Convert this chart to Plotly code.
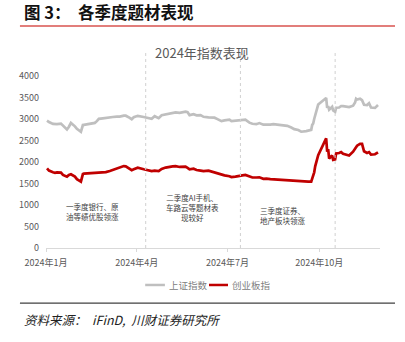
import plotly.graph_objects as go

# Trading dates sampled through 2024
dates = [
    "2024-01-02", "2024-01-04", "2024-01-08", "2024-01-10", "2024-01-12", "2024-01-16",
    "2024-01-18", "2024-01-22", "2024-01-24", "2024-01-26", "2024-01-30", "2024-02-01",
    "2024-02-05", "2024-02-07", "2024-02-08", "2024-02-19", "2024-02-21", "2024-02-23",
    "2024-02-27", "2024-03-01", "2024-03-05", "2024-03-08", "2024-03-12", "2024-03-15",
    "2024-03-19", "2024-03-21", "2024-03-25", "2024-03-27", "2024-03-29", "2024-04-02",
    "2024-04-08", "2024-04-11", "2024-04-16", "2024-04-19", "2024-04-23", "2024-04-26",
    "2024-04-30", "2024-05-07", "2024-05-10", "2024-05-14", "2024-05-17", "2024-05-20",
    "2024-05-22", "2024-05-24", "2024-05-28", "2024-05-31", "2024-06-04", "2024-06-07",
    "2024-06-12", "2024-06-14", "2024-06-18", "2024-06-21", "2024-06-25", "2024-06-28",
    "2024-07-03", "2024-07-05", "2024-07-09", "2024-07-12", "2024-07-16", "2024-07-19",
    "2024-07-23", "2024-07-26", "2024-07-30", "2024-08-02", "2024-08-06", "2024-08-09",
    "2024-08-13", "2024-08-16", "2024-08-20", "2024-08-23", "2024-08-27", "2024-08-30",
    "2024-09-03", "2024-09-06", "2024-09-10", "2024-09-13", "2024-09-18", "2024-09-20",
    "2024-09-23", "2024-09-24", "2024-09-25", "2024-09-26", "2024-09-27", "2024-09-30",
    "2024-10-08", "2024-10-09", "2024-10-10", "2024-10-11", "2024-10-14", "2024-10-15",
    "2024-10-17", "2024-10-18", "2024-10-21", "2024-10-23", "2024-10-25", "2024-10-29",
    "2024-10-31", "2024-11-04", "2024-11-06", "2024-11-07", "2024-11-08", "2024-11-11",
    "2024-11-13", "2024-11-15", "2024-11-18", "2024-11-20", "2024-11-22", "2024-11-26",
    "2024-11-28", "2024-11-29",
]

# 上证指数 closing levels
sse = [
    2962, 2930, 2887, 2877, 2881, 2893,
    2845, 2756, 2820, 2910, 2830, 2770,
    2702, 2860, 2865, 2910, 2950, 3004,
    3015, 3027, 3047, 3046, 3055, 3054,
    3078, 3077, 3027, 2993, 3041, 3074,
    3047, 3034, 3007, 3065, 3021, 3088,
    3105, 3147, 3154, 3145, 3154, 3171,
    3158, 3089, 3110, 3086, 3091, 3051,
    3037, 3032, 3030, 2998, 2950, 2967,
    2982, 2949, 2959, 2971, 2976, 2982,
    2915, 2890, 2879, 2905, 2867, 2862,
    2868, 2879, 2866, 2855, 2848, 2842,
    2802, 2765, 2744, 2704, 2717, 2736,
    2748, 2863, 2897, 3000, 3087, 3336,
    3489, 3258, 3301, 3217, 3284, 3202,
    3169, 3261, 3268, 3302, 3300, 3286,
    3279, 3310, 3383, 3471, 3452, 3470,
    3439, 3331, 3324, 3368, 3267, 3259,
    3295, 3326,
]

# 创业板指 closing levels
chinext = [
    1853, 1800, 1760, 1748, 1760, 1752,
    1700, 1660, 1700, 1715, 1660, 1600,
    1543, 1720, 1730, 1740, 1745, 1750,
    1755, 1765, 1790, 1815, 1860, 1890,
    1905, 1900, 1840, 1810, 1830, 1868,
    1830, 1820, 1790, 1800, 1790, 1840,
    1870, 1900, 1905, 1885, 1880, 1890,
    1865, 1830, 1845, 1815, 1800, 1790,
    1800, 1785, 1770, 1730, 1700, 1690,
    1670, 1650, 1660, 1680, 1690, 1700,
    1660, 1640, 1640, 1645, 1610, 1615,
    1600, 1595, 1590, 1580, 1575, 1580,
    1570, 1560, 1550, 1545, 1550, 1545,
    1545, 1620, 1680, 1760, 1900, 2160,
    2550, 2240, 2300, 2080, 2150, 2050,
    2060, 2200, 2210, 2230, 2190, 2170,
    2150, 2240, 2300, 2340, 2380, 2420,
    2420, 2250, 2210, 2230, 2170, 2180,
    2200, 2225,
]

series_names = ["上证指数", "创业板指"]
series_colors = ["#BFBFBF", "#C00000"]

tick_dates = ["2024-01-01", "2024-04-01", "2024-07-01", "2024-10-01"]
tick_text = ["2024年1月", "2024年4月", "2024年7月", "2024年10月"]
y_ticks = [0, 500, 1000, 1500, 2000, 2500, 3000, 3500, 4000]

# Quarter separators and their notes
quarter_marks = ["2024-04-10", "2024-07-14", "2024-10-17"]
quarter_notes = [
    "一季度银行、原<br>油等绩优股领涨",
    "二季度AI手机、<br>车路云等题材表<br>现较好",
    "三季度证券、<br>地产板块领涨",
]
note_pos = [(0.138, 0.215), (0.44, 0.238), (0.71, 0.189)]

CJK = "Noto Sans CJK SC"

fig = go.Figure()
for name, vals, col in zip(series_names, [sse, chinext], series_colors):
    fig.add_trace(go.Scatter(
        x=dates, y=vals, mode="lines", name=name,
        line=dict(color=col, width=2.7), showlegend=False,
    ))

shapes = []
for d in quarter_marks:
    shapes.append(dict(type="line", xref="x", yref="paper", x0=d, x1=d,
                       y0=0, y1=1.134, line=dict(color="#D0D0D0", width=1, dash="dot")))

# header rule and footer rule
shapes.append(dict(type="line", xref="paper", yref="paper", x0=-0.078, x1=1.045,
                   y0=1.291, y1=1.291, line=dict(color="#D9534F", width=1.5)))
shapes.append(dict(type="line", xref="paper", yref="paper", x0=-0.078, x1=1.045,
                   y0=-0.32, y1=-0.32, line=dict(color="#404040", width=1.2)))

# legend keys
legend_keys = [(0.297, 0.356, 0.362), (0.488, 0.545, 0.551)]
for (x0, x1, tx), name, col in zip(legend_keys, series_names, series_colors):
    shapes.append(dict(type="line", xref="paper", yref="paper", x0=x0, x1=x1,
                       y0=-0.215, y1=-0.215, line=dict(color=col, width=2.5)))

annotations = []
for (x0, x1, tx), name in zip(legend_keys, series_names):
    annotations.append(dict(xref="paper", yref="paper", x=tx, y=-0.215, text=name,
                            showarrow=False, xanchor="left", yanchor="middle",
                            font=dict(family=CJK, size=9.5, color="#808080")))

for (nx, ny), txt in zip(note_pos, quarter_notes):
    annotations.append(dict(xref="paper", yref="paper", x=nx, y=ny, text=txt,
                            showarrow=False, xanchor="center", yanchor="middle",
                            align="center",
                            font=dict(family=CJK, size=7.5, color="#404040")))

annotations.append(dict(xref="paper", yref="paper", x=-0.069, y=1.37,
                        text="<b>图 3：  各季度题材表现</b>", showarrow=False,
                        xanchor="left", yanchor="middle", borderpad=0,
                        font=dict(family=CJK, size=16.5, color="#111111")))
annotations.append(dict(xref="paper", yref="paper", x=0.467, y=1.134,
                        text="2024年指数表现", showarrow=False,
                        xanchor="center", yanchor="middle",
                        font=dict(family=CJK, size=13, color="#595959")))
annotations.append(dict(xref="paper", yref="paper", x=-0.072, y=-0.413,
                        text="<i>资料来源：  iFinD,  川财证券研究所</i>", showarrow=False,
                        xanchor="left", yanchor="middle",
                        font=dict(family=CJK, size=12.5, color="#222222")))

fig.update_layout(
    width=405, height=342,
    margin=dict(l=46, r=25, t=76, b=94),
    paper_bgcolor="white", plot_bgcolor="white",
    shapes=shapes, annotations=annotations,
    xaxis=dict(
        type="date", range=["2024-01-01", "2024-12-01"],
        tickvals=tick_dates, ticktext=tick_text,
        showgrid=False, zeroline=False,
        showline=True, linecolor="#D9D9D9", linewidth=1,
        ticks="outside", ticklen=3, tickcolor="#D9D9D9",
        tickfont=dict(family=CJK, size=9, color="#595959"),
        ticklabelstandoff=3,
    ),
    yaxis=dict(
        range=[0, 4000], tickvals=y_ticks,
        showgrid=False, zeroline=False, showline=False, ticks="",
        tickfont=dict(family=CJK, size=9, color="#595959"),
        ticklabelstandoff=6,
    ),
)

fig.write_html("out.html")
